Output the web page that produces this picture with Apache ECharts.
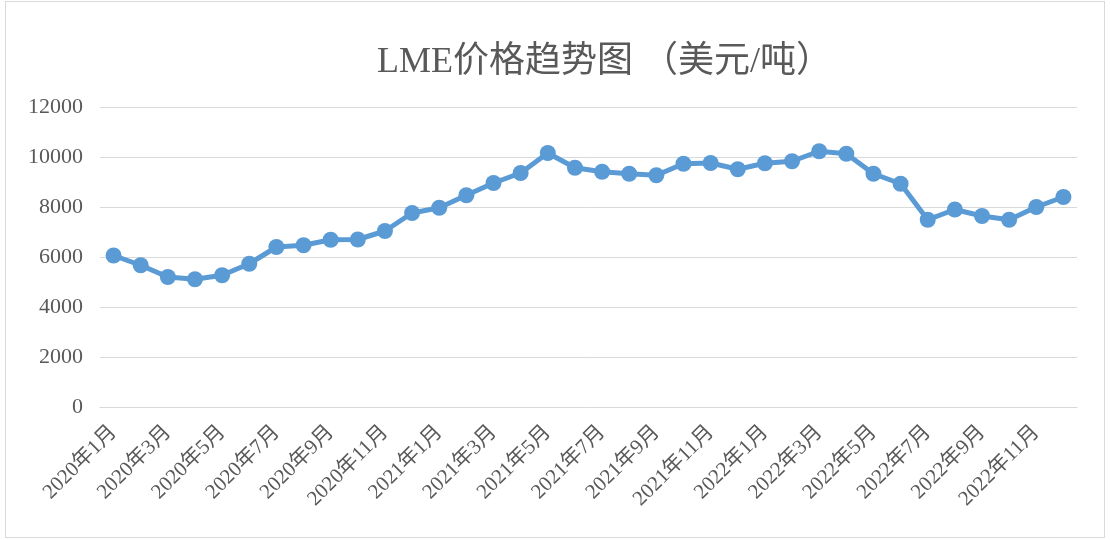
<!DOCTYPE html>
<html>
<head>
<meta charset="utf-8">
<script src="https://cdn.jsdelivr.net/npm/echarts@6/dist/echarts.min.js"></script>
<style>
html,body{margin:0;padding:0;background:#fff;}
#frame{position:absolute;left:5px;top:1px;width:1098px;height:535px;border:1px solid #d9d9d9;}
#chart{position:absolute;left:0;top:0;width:1110px;height:540px;}
</style>
</head>
<body>
<div id="frame"></div>
<div id="chart"></div>
<script>
const categories = [
  "2020年1月","2020年2月","2020年3月","2020年4月","2020年5月","2020年6月",
  "2020年7月","2020年8月","2020年9月","2020年10月","2020年11月","2020年12月",
  "2021年1月","2021年2月","2021年3月","2021年4月","2021年5月","2021年6月",
  "2021年7月","2021年8月","2021年9月","2021年10月","2021年11月","2021年12月",
  "2022年1月","2022年2月","2022年3月","2022年4月","2022年5月","2022年6月",
  "2022年7月","2022年8月","2022年9月","2022年10月","2022年11月","2022年12月"
];
const prices = [
  6060, 5670, 5200, 5110, 5270, 5730,
  6400, 6470, 6690, 6700, 7040, 7760,
  7970, 8470, 8960, 9360, 10160, 9570,
  9410, 9330, 9270, 9730, 9760, 9510,
  9750, 9830, 10230, 10130, 9330, 8930,
  7490, 7900, 7640, 7490, 8000, 8400
];
const titleText = "LME价格趋势图 （美元/吨）";

const serif = '"Liberation Serif","DejaVu Serif","Noto Sans CJK SC",serif';
const chart = echarts.init(document.getElementById('chart'));
chart.setOption({
  animation: false,
  title: {
    text: titleText,
    left: 372,
    top: 40,
    textStyle: { fontFamily: serif, fontSize: 36, fontWeight: 'normal', color: '#595959' }
  },
  grid: { left: 100, right: 33, top: 107, bottom: 133 },
  xAxis: {
    type: 'category',
    data: categories,
    boundaryGap: true,
    axisLine: { show: true, lineStyle: { color: '#d9d9d9', width: 1 } },
    axisTick: { show: false },
    axisLabel: {
      interval: 1,
      rotate: 45,
      margin: 22,
      fontFamily: serif,
      fontSize: 21,
      color: '#595959'
    }
  },
  yAxis: {
    type: 'value',
    min: 0,
    max: 12000,
    interval: 2000,
    axisLine: { show: false },
    axisTick: { show: false },
    splitLine: { lineStyle: { color: '#d9d9d9', width: 1 } },
    axisLabel: {
      fontFamily: serif, fontSize: 22, color: '#595959', margin: 17,
      formatter: function (v) { return String(v); }
    }
  },
  series: [{
    type: 'line',
    data: prices,
    symbol: 'circle',
    symbolSize: 16,
    lineStyle: { color: '#5B9BD5', width: 5 },
    itemStyle: { color: '#5B9BD5' }
  }]
});
</script>
</body>
</html>
